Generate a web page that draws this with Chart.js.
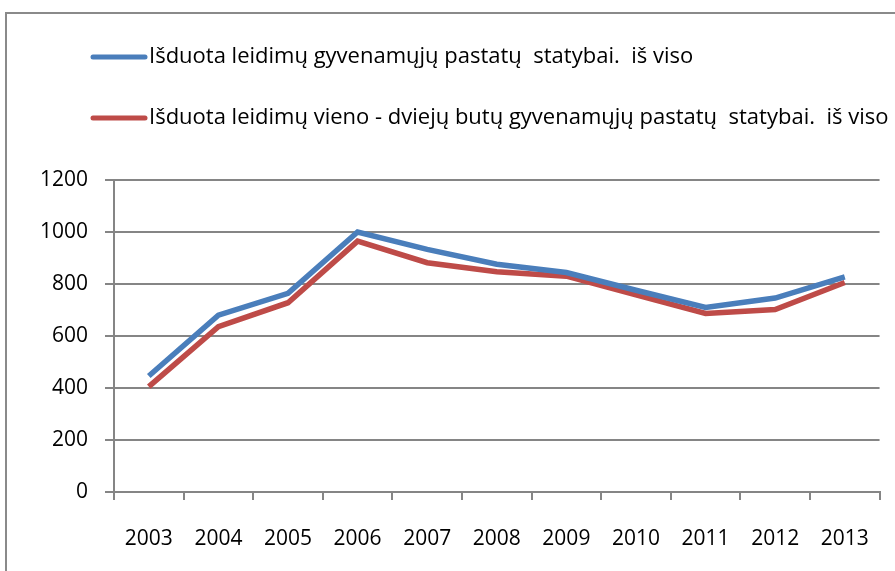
<!DOCTYPE html>
<html>
<head>
<meta charset="utf-8">
<script src="https://cdn.jsdelivr.net/npm/chart.js@4/dist/chart.umd.min.js"></script>
<style>
  html, body { margin: 0; padding: 0; background: #fff; }
  #wrap { width: 895px; height: 571px; position: relative; }
</style>
</head>
<body>
<div id="wrap"><canvas id="lineChart"></canvas></div>
<script>
const years = ['2003', '2004', '2005', '2006', '2007', '2008', '2009', '2010', '2011', '2012', '2013'];
const totalPermits = [446, 680, 764, 1000, 933, 876, 844, 776, 710, 746, 827];
const housePermits = [405, 636, 728, 965, 882, 847, 830, 758, 687, 702, 806];
const yTicks = [0, 200, 400, 600, 800, 1000, 1200];
const seriesNames = [
  'Išduota leidimų gyvenamųjų pastatų  statybai.  iš viso',
  'Išduota leidimų vieno - dviejų butų gyvenamųjų pastatų  statybai.  iš viso',
];

const FONT = '"Open Sans", Lato, "Noto Sans", sans-serif';
const GRID = '#858585';

/* frame + legend drawn by hand, Excel style */
const excelDecor = {
  id: 'excelDecor',
  afterDraw(chart) {
    const ctx = chart.ctx;
    ctx.save();
    ctx.strokeStyle = '#8a8a8a';
    ctx.lineWidth = 2;
    ctx.strokeRect(6, 13, 1000, 1000);

    const rows = [57, 118];
    chart.data.datasets.forEach((ds, i) => {
      const y = rows[i];
      ctx.strokeStyle = ds.borderColor;
      ctx.lineWidth = 5;
      ctx.lineCap = 'round';
      ctx.beginPath();
      ctx.moveTo(93, y);
      ctx.lineTo(145, y);
      ctx.stroke();
      ctx.fillStyle = '#000';
      ctx.font = '22px ' + FONT;
      ctx.textBaseline = 'middle';
      ctx.textAlign = 'left';
      ctx.fillText(ds.label, 149, y);
    });
    ctx.restore();
  },
};

new Chart(document.getElementById('lineChart'), {
  type: 'line',
  data: {
    labels: years,
    datasets: [
      {
        label: seriesNames[0],
        data: totalPermits,
        borderColor: '#4a7ebb',
        borderWidth: 5.5,
        pointRadius: 0,
        tension: 0,
      },
      {
        label: seriesNames[1],
        data: housePermits,
        borderColor: '#be4b48',
        borderWidth: 5.5,
        pointRadius: 0,
        tension: 0,
      },
    ],
  },
  options: {
    responsive: true,
    maintainAspectRatio: false,
    animation: false,
    layout: { padding: { top: 180, right: 5, left: 0, bottom: 0 } },
    plugins: {
      legend: { display: false },
      tooltip: { enabled: false },
      title: { display: false },
    },
    scales: {
      x: {
        offset: true,
        grid: {
          offset: true,
          drawOnChartArea: false,
          color: GRID,
          lineWidth: 2,
          tickLength: 8,
        },
        border: { color: GRID, width: 2 },
        ticks: {
          color: '#000',
          font: { family: FONT, size: 21 },
          padding: 26,
          maxRotation: 0,
          autoSkip: false,
        },
        afterFit(scale) { scale.height = 79; },
      },
      y: {
        min: 0,
        max: 1200,
        afterBuildTicks(scale) { scale.ticks = yTicks.map(v => ({ value: v })); },
        grid: { color: GRID, lineWidth: 2, tickLength: 9 },
        border: { color: GRID, width: 2 },
        ticks: {
          color: '#000',
          font: { family: FONT, size: 21 },
          padding: 17,
          callback: v => String(v),
        },
        afterFit(scale) { scale.width = 114; },
      },
    },
  },
  plugins: [excelDecor],
});
</script>
</body>
</html>
